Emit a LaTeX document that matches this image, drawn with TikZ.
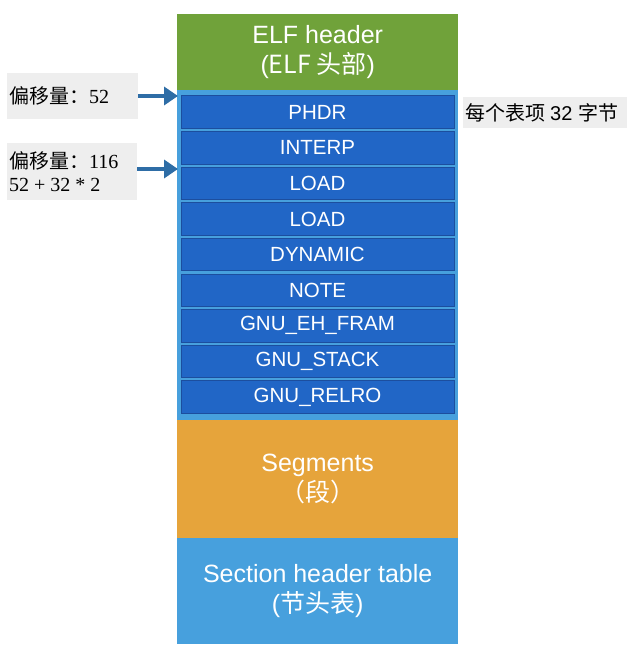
\documentclass[tikz,border=0pt]{standalone}
\usepackage{fontspec}
\setmainfont{Liberation Serif}
\setsansfont{Liberation Sans}
\newfontfamily\cjk{Noto Sans CJK SC}
\usetikzlibrary{arrows.meta}
\definecolor{elfgreen}{HTML}{70A23A}
\definecolor{frameblue}{HTML}{47A0DD}
\definecolor{entryblue}{HTML}{2166C6}
\definecolor{entryedge}{HTML}{1C4E9E}
\definecolor{segorange}{HTML}{E6A43B}
\definecolor{labelgray}{HTML}{EEEEEE}
\definecolor{arrowblue}{HTML}{2E6DA6}
\tikzset{
  region/.style={draw=none, minimum width=281pt, inner sep=0pt, text=white,
    font=\sffamily\fontsize{25}{30}\selectfont, align=center},
  entrybox/.style={draw=entryedge, line width=1pt, fill=entryblue, minimum width=273pt,
    minimum height=32.5pt, inner sep=0pt, text=white, font=\sffamily\fontsize{20.5}{24}\selectfont},
  notebox/.style={fill=labelgray, inner sep=0pt, align=left, text=black},
  pointer/.style={draw=arrowblue, line width=3.5pt, -{Triangle[length=14pt,width=18pt]}}
}
\begin{document}
\begin{tikzpicture}[x=1pt,y=-1pt]
\useasboundingbox (0,0) rectangle (640,663);
% regions
\node[region, fill=elfgreen, minimum height=76pt, anchor=north west] (elf) at (177,14)
  {ELF header\\({\cjk ELF 头部})};
\node[region, fill=frameblue, minimum height=330pt, anchor=north west] (phdrs) at (177,90) {};
\node[region, fill=segorange, minimum height=118pt, anchor=north west] (seg) at (177,420)
  {Segments\\{\cjk （段）}};
\node[region, fill=frameblue, minimum height=106pt, anchor=north west] (sht) at (177,538)
  {Section header table\\({\cjk 节头表})};
% entries
\foreach \t [count=\i from 0] in {PHDR,INTERP,LOAD,LOAD,DYNAMIC,NOTE,GNU\_EH\_FRAM,GNU\_STACK,GNU\_RELRO}{
  \node[entrybox] (e\i) at (317.5,{112.25+35.6*\i}) {\t};
}
% labels
\node[notebox, minimum width=131pt, minimum height=46pt, anchor=north west] (l1) at (7,73) {};
\node[anchor=west, inner sep=0pt, font=\fontsize{20}{24}\selectfont] (l1t) at (9,96) {{\cjk 偏移量：}52};
\node[notebox, minimum width=130pt, minimum height=57pt, anchor=north west] (l2) at (7,143) {};
\node[anchor=west, inner sep=0pt, align=left, font=\fontsize{20}{23.5}\selectfont] (l2t) at (9,171.5)
  {{\cjk 偏移量：}116\\52 + 32 * 2};
\node[notebox, minimum width=164pt, minimum height=31pt, anchor=north west,
  font=\fontsize{20}{24}\selectfont] (r1) at (463,97) {};
\node[anchor=west, inner sep=0pt, font=\fontsize{20}{24}\selectfont] (r1t) at (465,112.5)
  {{\cjk 每个表项} \sffamily 32 {\cjk 字节}};
% arrows
\coordinate (t1) at (178,96);
\coordinate (t2) at (178,169);
\draw[pointer] (l1.east |- t1) -- (t1);
\draw[pointer] (l2.east |- t2) -- (t2);
\end{tikzpicture}
\end{document}
